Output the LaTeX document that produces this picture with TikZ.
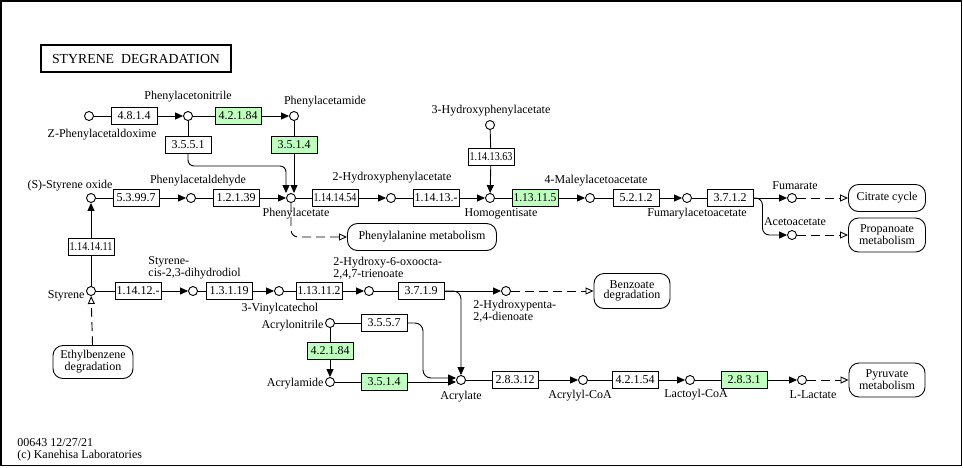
\documentclass[tikz,border=0pt]{standalone}
\usepackage{fontspec}
\setmainfont{Liberation Serif}
\usepackage{graphicx}
\usetikzlibrary{arrows.meta}
\definecolor{kg}{HTML}{BFFFBF}
\newsavebox{\ezb}
\newcommand{\ez}[1]{\sbox\ezb{#1}\ifdim\wd\ezb>43pt\resizebox{43pt}{\height}{#1}\else\usebox\ezb\fi}
\begin{document}
\begin{tikzpicture}[x=1pt,y=-1pt,font=\fontsize{12}{13}\selectfont,line width=0.9pt,
 cpd/.style={circle,draw,fill=white,minimum size=9pt,inner sep=0pt},
 enz/.style={draw,fill=white,minimum width=46pt,minimum height=17pt,inner sep=0pt},
 genz/.style={enz,fill=kg},
 mapbox/.style={draw,fill=white,rounded corners=10pt,align=center,inner sep=0pt,font=\fontsize{12}{10}\selectfont},
 lbl/.style={inner sep=0pt},
 two/.style={inner sep=0pt,align=left,anchor=west,font=\fontsize{12}{10}\selectfont},
 arr/.style={-{Triangle[length=8pt,width=7pt]}},
 darr/.style={dash pattern=on 9pt off 5pt,-{Triangle[open,length=8pt,width=7pt]}},
]
\useasboundingbox (0,0) rectangle (963,467);
\draw[line width=1.8pt] (1,1) rectangle (961.5,465.5);
\node[draw,line width=2pt,minimum width=190pt,minimum height=27pt,inner sep=0pt,font=\fontsize{13.8}{15}\selectfont] (title) at (136,58.5) {STYRENE\ \ DEGRADATION};

% ---- row 1
\node[cpd] (cZpa) at (89,116) {};
\node[enz] (e4814) at (134,116) {\ez{4.8.1.4}};
\node[cpd] (cPan) at (188,116) {};
\node[genz] (e42184a) at (238,116) {\ez{4.2.1.84}};
\node[cpd] (cPam) at (294,116) {};
\node[enz] (e3551) at (188,145) {\ez{3.5.5.1}};
\node[genz] (e3514a) at (294,145) {\ez{3.5.1.4}};
\node[lbl] (lZpa) at (102,135) {Z-Phenylacetaldoxime};
\node[lbl] (lPan) at (188,97) {Phenylacetonitrile};
\node[lbl] (lPam) at (325,102) {Phenylacetamide};

% ---- row 2
\node[cpd] (cSto) at (91,198) {};
\node[enz] (e53997) at (136,198) {\ez{5.3.99.7}};
\node[cpd] (cPald) at (191,198) {};
\node[enz] (e12139) at (236,198) {\ez{1.2.1.39}};
\node[cpd] (cPa) at (291,198) {};
\node[enz] (e114145) at (335,198) {\ez{1.14.14.54}};
\node[cpd] (c2hpa) at (391,198) {};
\node[enz] (e11413) at (436,198) {\ez{1.14.13.-}};
\node[cpd] (cHga) at (490,198) {};
\node[genz] (e113115) at (535,198) {\ez{1.13.11.5}};
\node[cpd] (cMaa) at (590,198) {};
\node[enz] (e5212) at (636,198) {\ez{5.2.1.2}};
\node[cpd] (cFaa) at (687,198) {};
\node[enz] (e3712) at (730,198) {\ez{3.7.1.2}};
\node[cpd] (cFum) at (792,198) {};
\node[mapbox,minimum width=77pt,minimum height=27pt] (mCit) at (887,198) {Citrate cycle};
\node[cpd] (c3hpa) at (490,125) {};
\node[enz] (e1141363) at (491,157) {\ez{1.14.13.63}};
\node[cpd] (cAceto) at (792,235) {};
\node[mapbox,minimum width=77pt,minimum height=34pt] (mProp) at (887,235) {Propanoate\\metabolism};
\node[mapbox,minimum width=149pt,minimum height=27pt] (mPhe) at (422,237) {Phenylalanine metabolism};
\node[lbl] (lSto) at (70,186) {(S)-Styrene oxide};
\node[lbl] (lPald) at (198,181) {Phenylacetaldehyde};
\node[lbl] (lPa) at (296,214) {Phenylacetate};
\node[lbl] (l2hpa) at (392,178) {2-Hydroxyphenylacetate};
\node[lbl] (lHga) at (501,214) {Homogentisate};
\node[lbl] (lMaa) at (596,181) {4-Maleylacetoacetate};
\node[lbl] (lFaa) at (697,214) {Fumarylacetoacetate};
\node[lbl] (lFum) at (795,186) {Fumarate};
\node[lbl] (l3hpa) at (491,111) {3-Hydroxyphenylacetate};
\node[lbl] (lAceto) at (795,222) {Acetoacetate};

\node[enz] (e11414411) at (91,247) {\ez{1.14.14.11}};

% ---- row 3
\node[cpd] (cSty) at (91,291) {};
\node[mapbox,minimum width=80pt,minimum height=33pt] (mEth) at (93,362) {Ethylbenzene\\degradation};
\node[enz] (e11412) at (138,291) {\ez{1.14.12.-}};
\node[cpd] (cScd) at (193,291) {};
\node[enz] (e13119) at (229,291) {\ez{1.3.1.19}};
\node[cpd] (cVc) at (279,291) {};
\node[enz] (e113112) at (319,291) {\ez{1.13.11.2}};
\node[cpd] (cHot) at (369,291) {};
\node[enz] (e3719) at (421,291) {\ez{3.7.1.9}};
\node[cpd] (cHpd) at (506,291) {};
\node[mapbox,minimum width=76pt,minimum height=35pt] (mBen) at (632,291) {Benzoate\\degradation};
\node[lbl,anchor=east] (lSty) at (85,296) {Styrene};
\node[two] (lScd) at (148,268) {Styrene-\\cis-2,3-dihydrodiol};
\node[lbl] (lVc) at (280,309) {3-Vinylcatechol};
\node[two] (lHot) at (333,268) {2-Hydroxy-6-oxoocta-\\2,4,7-trienoate};
\node[two] (lHpd) at (473,311) {2-Hydroxypenta-\\2,4-dienoate};

% ---- acrylate part
\node[cpd] (cAcn) at (330,323) {};
\node[enz] (e3557) at (384,323) {\ez{3.5.5.7}};
\node[genz] (e42184b) at (330,351) {\ez{4.2.1.84}};
\node[cpd] (cAcm) at (330,382) {};
\node[genz] (e3514b) at (384,382) {\ez{3.5.1.4}};
\node[cpd] (cAcr) at (461,380) {};
\node[enz] (e28312) at (515,380) {\ez{2.8.3.12}};
\node[cpd] (cAcoa) at (583,380) {};
\node[enz] (e42154) at (635,380) {\ez{4.2.1.54}};
\node[cpd] (cLcoa) at (690,380) {};
\node[genz] (e2831) at (744,380) {\ez{2.8.3.1}};
\node[cpd] (cLac) at (802,380) {};
\node[mapbox,minimum width=76pt,minimum height=34pt] (mPyr) at (887,380) {Pyruvate\\metabolism};
\node[lbl,anchor=east] (lAcn) at (324,326) {Acrylonitrile};
\node[lbl,anchor=east] (lAcm) at (324,384) {Acrylamide};
\node[lbl] (lAcr) at (461,397) {Acrylate};
\node[lbl] (lAcoa) at (580,396) {Acrylyl-CoA};
\node[lbl] (lLcoa) at (696,395) {Lactoyl-CoA};
\node[lbl] (lLac) at (813,395) {L-Lactate};

\node[lbl,anchor=west] (f1) at (17,443) {00643 12/27/21};
\node[lbl,anchor=west] (f2) at (17,456) {(c) Kanehisa Laboratories};

\coordinate (k1) at (286,166);
\coordinate (k3) at (423,350);

% ---- connectors row 1
\draw (cZpa) -- (e4814);
\draw[arr] (e4814) -- (cPan);
\draw (cPan) -- (e42184a);
\draw[arr] (e42184a) -- (cPam);
\draw (cPan) -- (e3551);
\draw (cPam) -- (e3514a);
\draw[arr] (e3514a) -- (e3514a |- cPa.north);
\draw[arr,rounded corners=6pt] (e3551.south) |- (k1) -- (k1 |- cPa.north);

% ---- connectors row 2
\draw (cSto) -- (e53997);
\draw[arr] (e53997) -- (cPald);
\draw (cPald) -- (e12139);
\draw[arr] (e12139) -- (cPa);
\draw (cPa) -- (e114145);
\draw[arr] (e114145) -- (c2hpa);
\draw (c2hpa) -- (e11413);
\draw[arr] (e11413) -- (cHga);
\draw (cHga) -- (e113115);
\draw[arr] (e113115) -- (cMaa);
\draw (cMaa) -- (e5212);
\draw[arr] (e5212) -- (cFaa);
\draw (cFaa) -- (e3712);
\draw[arr] (e3712) -- (cFum);
\draw[arr,rounded corners=7pt] (e3712.east) -- ++(9,0) |- (cAceto);
\draw[darr] (cFum) -- (mCit);
\draw[darr] (cAceto) -- (mProp);
\draw (c3hpa) -- (e1141363);
\draw[arr] (e1141363) -- (cHga);
\draw[darr,rounded corners=7pt] (cPa.south) |- (mPhe.west);

\draw (cSty) -- (e11414411);
\draw[arr] (e11414411) -- (cSto);
\draw[darr] (mEth) -- (cSty);

% ---- connectors row 3
\draw (cSty) -- (e11412);
\draw[arr] (e11412) -- (cScd);
\draw (cScd) -- (e13119);
\draw[arr] (e13119) -- (cVc);
\draw (cVc) -- (e113112);
\draw[arr] (e113112) -- (cHot);
\draw (cHot) -- (e3719);
\draw[arr] (e3719) -- (cHpd);
\draw[darr] (cHpd) -- (mBen);
\draw[arr,rounded corners=8pt] (e3719.east) -| (cAcr.north);

% ---- acrylate part
\draw (cAcn) -- (e3557);
\draw[arr,rounded corners=8pt] (e3557.east) -| (k3) |- ([yshift=2pt]cAcr.west);
\draw (cAcn) -- (e42184b);
\draw[arr] (e42184b) -- (cAcm);
\draw (cAcm) -- (e3514b);
\draw[arr] (e3514b.east) -- (e3514b.east -| cAcr.west);
\draw (cAcr) -- (e28312);
\draw[arr] (e28312) -- (cAcoa);
\draw (cAcoa) -- (e42154);
\draw[arr] (e42154) -- (cLcoa);
\draw (cLcoa) -- (e2831);
\draw[arr] (e2831) -- (cLac);
\draw[darr] (cLac) -- (mPyr);
\end{tikzpicture}
\end{document}
